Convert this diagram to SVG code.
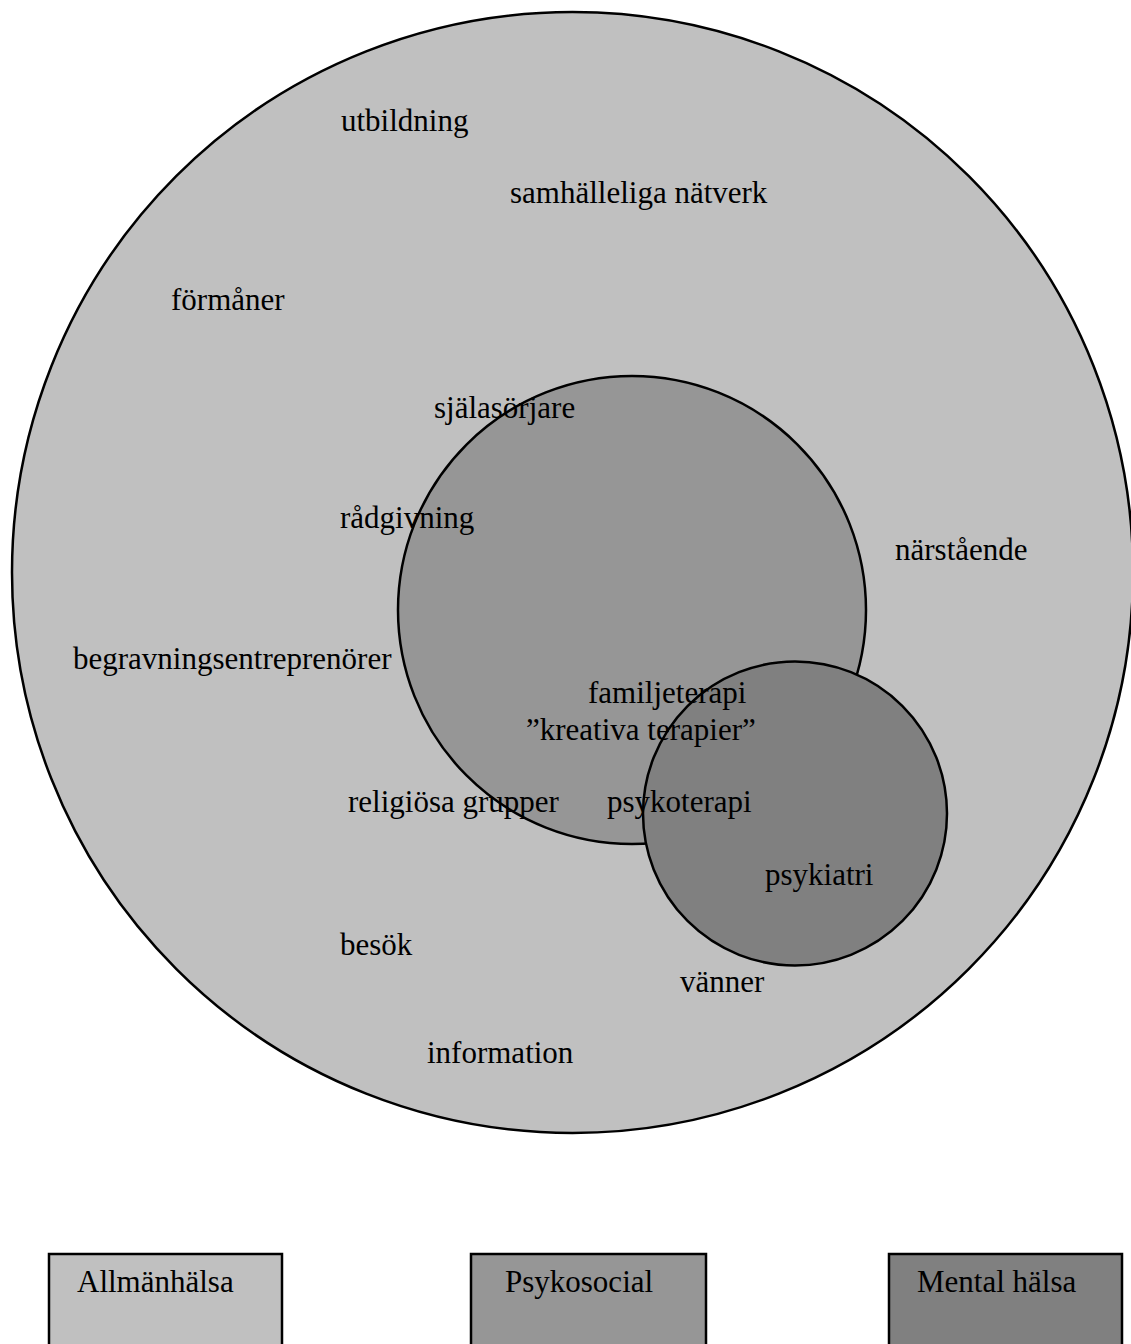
<svg xmlns="http://www.w3.org/2000/svg" width="1131" height="1344" viewBox="0 0 1131 1344">
<style>
text{font-family:"Liberation Serif","Times New Roman",serif;font-size:31px;fill:#000}
.c{stroke:#000;stroke-width:2.5}
.b{stroke:#000;stroke-width:2.5}
.l1{fill:#c0c0c0}.l2{fill:#969696}.l3{fill:#808080}
</style>
<rect width="1131" height="1344" fill="#fff"/>
<g id="allmanhalsa-circle"><circle class="c l1" cx="572.5" cy="572.5" r="560.5"/></g>
<g id="psykosocial-circle"><circle class="c l2" cx="632" cy="610" r="234"/></g>
<g id="mental-circle"><circle class="c l3" cx="795" cy="813.5" r="152"/></g>
<g id="labels">
<text x="341" y="131">utbildning</text>
<text x="510" y="203">samhälleliga nätverk</text>
<text x="171" y="310">förmåner</text>
<text x="434" y="418">själasörjare</text>
<text x="340" y="528">rådgivning</text>
<text x="895" y="560">närstående</text>
<text x="73" y="669">begravningsentreprenörer</text>
<text x="588" y="703">familjeterapi</text>
<text x="526" y="740">”kreativa terapier”</text>
<text x="348" y="812">religiösa grupper</text>
<text x="607" y="812">psykoterapi</text>
<text x="765" y="885">psykiatri</text>
<text x="340" y="955">besök</text>
<text x="680" y="992">vänner</text>
<text x="427" y="1063">information</text>
</g>
<g id="legend-allmanhalsa"><rect class="b l1" x="49" y="1254" width="233" height="110"/><text x="77" y="1292">Allmänhälsa</text></g>
<g id="legend-psykosocial"><rect class="b l2" x="471" y="1254" width="235" height="110"/><text x="505" y="1292">Psykosocial</text></g>
<g id="legend-mental"><rect class="b l3" x="889" y="1254" width="233" height="110"/><text x="917" y="1292">Mental hälsa</text></g>
</svg>
